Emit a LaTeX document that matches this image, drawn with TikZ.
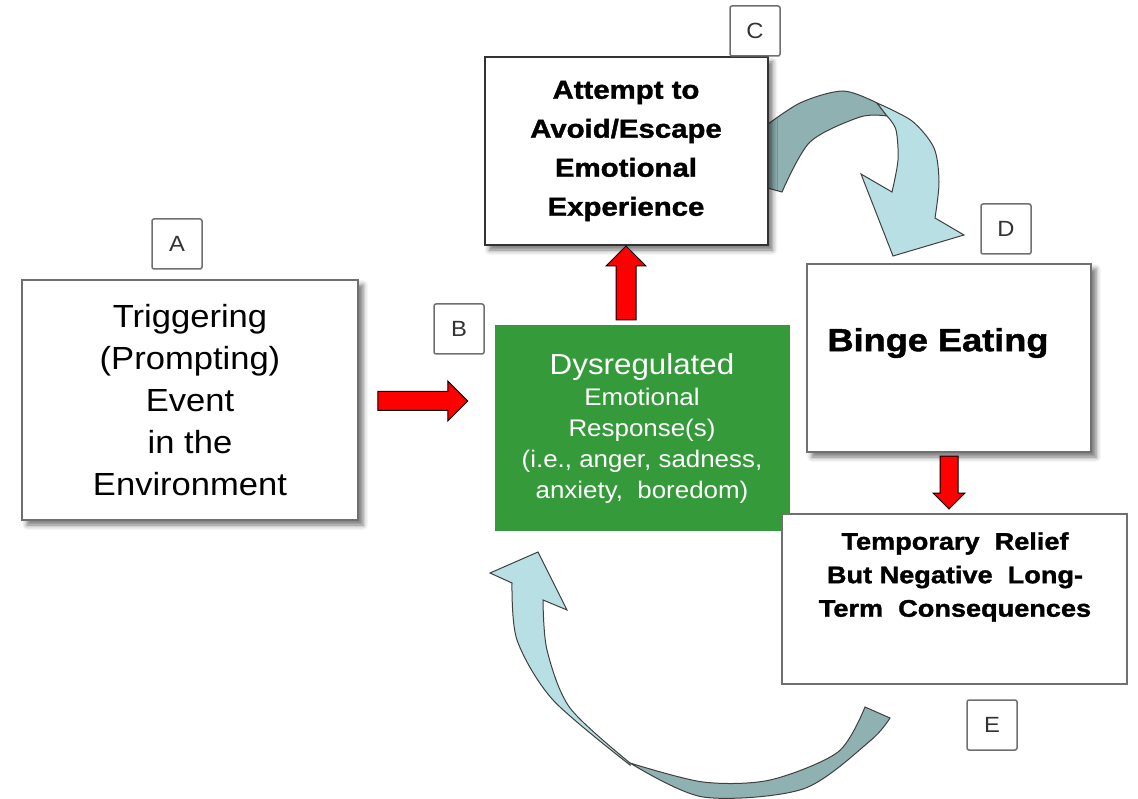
\documentclass[tikz,border=0pt]{standalone}
\usepackage{fontspec}
\setmainfont{Liberation Sans}[FakeStretch=1.08]
\newfontfamily\widebold{Liberation Sans}[FakeStretch=1.13, BoldFeatures={FakeBold=1.4}]
\usetikzlibrary{shapes.arrows, shadows.blur}

\definecolor{boxgreen}{HTML}{349A3A}
\definecolor{twistdark}{HTML}{8FB1B2}
\definecolor{twistlight}{HTML}{B8DFE3}
\definecolor{framegray}{HTML}{707070}

\tikzset{
  stagebox/.style={draw=framegray, line width=2pt, fill=white, inner sep=0pt, align=center,
    blur shadow={shadow xshift=5pt, shadow yshift=-5pt, shadow blur radius=5pt, shadow opacity=55}},
  tagbox/.style={draw=framegray, line width=1.5pt, rounded corners=2pt, fill=white,
    minimum width=50pt, minimum height=50pt, inner sep=0pt, text=black!80,
    font=\fontsize{22}{26}\selectfont},
  redarrow/.style={single arrow, fill=red, draw=black, line width=1pt, inner xsep=0pt},
  twist/.style={draw=black!75, line width=1pt},
}

\begin{document}
\begin{tikzpicture}[x=1pt, y=-1pt]
  \useasboundingbox (0,0) rectangle (1138,799);

  % curved arrows (behind the boxes)
  \filldraw[twist, fill=twistdark]
    plot[smooth] coordinates {(760,130) (800,103) (843,91) (877,103)} -- (887,116)
    -- plot[smooth] coordinates {(887,116) (860,117) (810,142) (782,192)} -- (760,186) -- cycle;
  \filldraw[twist, fill=twistlight]
    plot[smooth] coordinates {(877,103) (912,121) (934,148) (939,182) (935,218)}
    -- (964,235) -- (893,256) -- (861,174) -- (892,192)
    -- plot[smooth] coordinates {(892,192) (898,160) (896,130) (887,116)} -- cycle;
  \filldraw[twist, fill=twistdark]
    plot[smooth] coordinates {(865,707) (838,752) (770,780) (703,782) (630,763)}
    -- plot[smooth] coordinates {(630,763) (703,797) (803,789) (870,741) (890,718)} -- cycle;
  \filldraw[twist, fill=twistlight]
    plot[smooth] coordinates {(630,763) (570,708) (547,650) (543,600)}
    -- (567,610) -- (538,552) -- (490,573) -- (512,583)
    -- plot[smooth] coordinates {(512,583) (517,640) (553,700) (630,765)} -- cycle;

  % stages
  \node[stagebox, minimum width=336pt, minimum height=240pt,
        font=\fontsize{32}{42}\selectfont] (trigger) at (190,400)
        {Triggering\\(Prompting)\\Event\\in the\\Environment};
  \node[stagebox, draw=black!80, minimum width=283pt, minimum height=188pt,
        font=\widebold\bfseries\fontsize{26}{39}\selectfont] (avoid) at (626,151)
        {Attempt to\\Avoid/Escape\\Emotional\\Experience};
  \node[fill=boxgreen, minimum width=295pt, minimum height=205pt, inner sep=0pt,
        align=center, text=white, font=\fontsize{24}{31}\selectfont] (emotion) at (642,428)
        {{\fontsize{29}{34}\selectfont Dysregulated}\\Emotional\\Response(s)\\(i.e., anger, sadness,\\anxiety,~ boredom)};
  \node[stagebox, minimum width=284pt, minimum height=188pt] (binge) at (949,358) {};
  \node[font=\widebold\bfseries\fontsize{32}{38}\selectfont] (bingetext) at (938,343) {Binge Eating};
  \node[draw=framegray, line width=2pt, fill=white, minimum width=345pt, minimum height=170pt] (relief) at (954,599) {};
  \node[align=center, font=\widebold\bfseries\fontsize{24}{33.5}\selectfont] (relieftext) at (955,577)
        {Temporary~ Relief\\But Negative~ Long-\\Term~ Consequences};

  % tags
  \node[tagbox] (tagA) at (177,244) {A};
  \node[tagbox] (tagB) at (459,329) {B};
  \node[tagbox] (tagC) at (755,31) {C};
  \node[tagbox] (tagD) at (1006,229) {D};
  \node[tagbox] (tagE) at (992,725) {E};

  % red arrows
  \node[redarrow, inner ysep=9pt, minimum height=90pt, minimum width=39pt, single arrow head extend=10.5pt] (toemotion) at (418,401) {};
  \node[redarrow, rotate=90, inner ysep=9.5pt, minimum height=74pt, minimum width=39pt, single arrow head extend=10pt] (toavoid) at (626,288) {};
  \node[redarrow, rotate=-90, inner ysep=8.5pt, minimum height=53pt, minimum width=31pt, single arrow head extend=7pt] (torelief) at (949,478) {};
\end{tikzpicture}
\end{document}
